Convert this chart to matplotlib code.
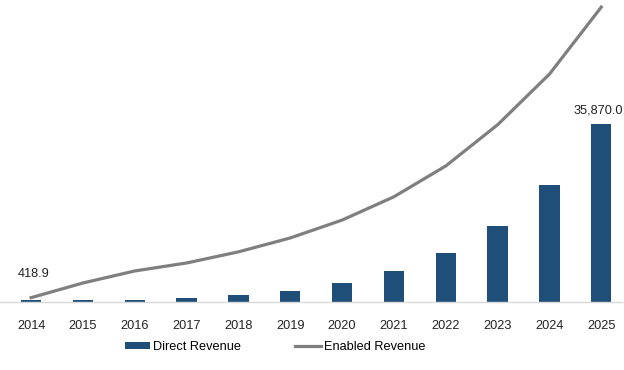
import matplotlib

matplotlib.use("Agg")
import matplotlib.pyplot as plt
import numpy as np

years = ["2014", "2015", "2016", "2017", "2018", "2019",
         "2020", "2021", "2022", "2023", "2024", "2025"]
direct_revenue = [418.9, 460, 470, 870, 1470, 2280,
                  3830, 6250, 9870, 15310, 23580, 35870.0]
enabled_revenue = [870, 3830, 6250, 7860, 10100, 12900,
                   16500, 21200, 27400, 35700, 45900, 59400]

BAR_COLOR = "#1F4E79"
LINE_COLOR = "#7F7F7F"

plt.rcParams["font.family"] = ["Liberation Sans", "DejaVu Sans"]

fig = plt.figure(figsize=(6.24, 3.70), dpi=100)
ax = fig.add_axes([0.0, 0.1838, 622 / 624, 0.805])

x = np.arange(len(years))
bars = ax.bar(x, direct_revenue, width=0.39, color=BAR_COLOR, label="Direct Revenue", zorder=2)
(line,) = ax.plot(x, enabled_revenue, color=LINE_COLOR, linewidth=2.3, label="Enabled Revenue", zorder=3)

ax.set_xlim(-0.6, len(years) - 0.6)
ax.set_ylim(0, 60000)
ax.set_xticks(x)
ax.set_xticklabels(years, fontsize=9.2, color="#222222")
ax.tick_params(axis="x", length=0, pad=13)
ax.set_yticks([])

for side in ["top", "right", "left"]:
    ax.spines[side].set_visible(False)
ax.spines["bottom"].set_color("#D9D9D9")
ax.spines["bottom"].set_linewidth(1.0)

ax.annotate("418.9", (x[0], direct_revenue[0]), xytext=(3, 26), textcoords="offset pixels",
            ha="center", va="center", fontsize=9.2, color="#222222")
ax.annotate(f"{direct_revenue[-1]:,.1f}", (x[-1], direct_revenue[-1]), xytext=(-3, 13),
            textcoords="offset pixels", ha="center", va="center", fontsize=9.2, color="#222222")

fig.legend([bars, line], ["Direct Revenue", "Enabled Revenue"],
           loc="center", bbox_to_anchor=(275 / 624, 1 - 347 / 370), ncol=2, frameon=False,
           fontsize=9.2, handlelength=2.0, handletextpad=0.25, columnspacing=4.2,
           handleheight=0.45)

fig.savefig("out.png", dpi=100)
plt.close(fig)
